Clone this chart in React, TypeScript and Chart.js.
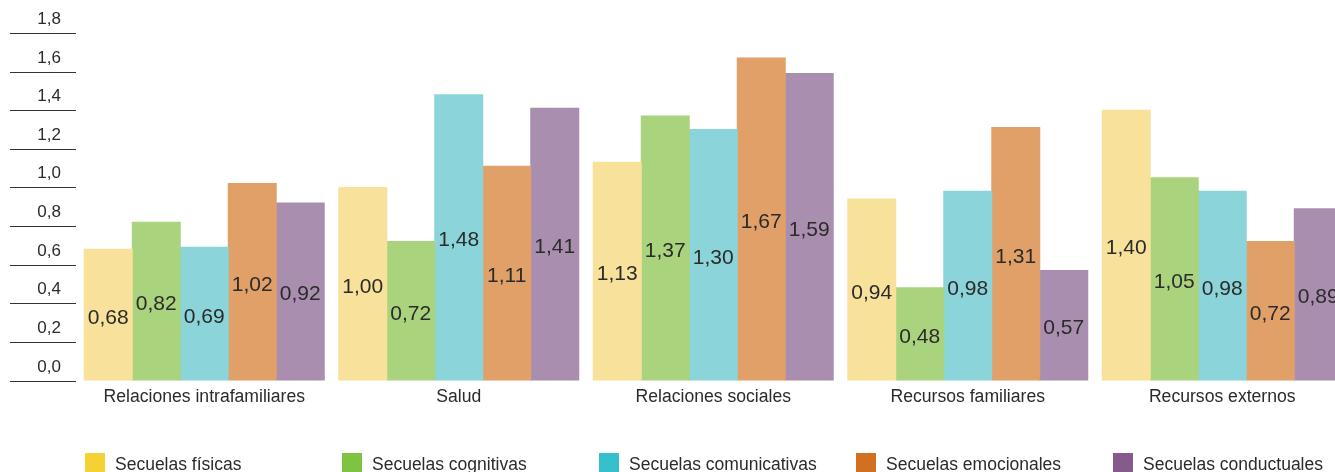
import React, { useEffect, useRef } from "react";
import { Chart, registerables } from "chart.js";

Chart.register(...registerables);

const categories = [
  "Relaciones intrafamiliares",
  "Salud",
  "Relaciones sociales",
  "Recursos familiares",
  "Recursos externos",
];

const seriesNames = [
  "Secuelas físicas",
  "Secuelas cognitivas",
  "Secuelas comunicativas",
  "Secuelas emocionales",
  "Secuelas conductuales",
];

const fisicas = [0.68, 1.0, 1.13, 0.94, 1.4];
const cognitivas = [0.82, 0.72, 1.37, 0.48, 1.05];
const comunicativas = [0.69, 1.48, 1.3, 0.98, 0.98];
const emocionales = [1.02, 1.11, 1.67, 1.31, 0.72];
const conductuales = [0.92, 1.41, 1.59, 0.57, 0.89];

const yTicks = [0, 0.2, 0.4, 0.6, 0.8, 1.0, 1.2, 1.4, 1.6, 1.8];
const yTickLabels = ["0,0", "0,2", "0,4", "0,6", "0,8", "1,0", "1,2", "1,4", "1,6", "1,8"];

const barColors = ["#F8E29B", "#AAD37E", "#8AD4DA", "#E0A068", "#AA8EB0"];
const legendColors = ["#F4D234", "#80C242", "#36C0CB", "#D17020", "#855B8C"];

const FONT = "'Liberation Sans', Arial, Helvetica, sans-serif";
const TEXT = "#2b2b2b";

const fmt = (v: number) => v.toFixed(2).replace(".", ",");

const decorPlugin = {
  id: "decor",
  afterDatasetsDraw(chart: any) {
    const ctx = chart.ctx;
    ctx.save();
    ctx.font = `21px ${FONT}`;
    ctx.fillStyle = TEXT;
    ctx.textAlign = "center";
    ctx.textBaseline = "middle";
    chart.data.datasets.forEach((ds: any, di: number) => {
      const meta = chart.getDatasetMeta(di);
      meta.data.forEach((bar: any, i: number) => {
        const mid = (bar.y + bar.base) / 2;
        ctx.fillText(fmt(ds.data[i]), bar.x, mid + 3);
      });
    });
    ctx.restore();
  },
  afterDraw(chart: any) {
    const ctx = chart.ctx;
    const y = chart.scales.y;
    const x = chart.scales.x;
    const area = chart.chartArea;
    ctx.save();

    // left value axis: a short rule per tick with its label above it
    ctx.strokeStyle = "#333";
    ctx.lineWidth = 1.2;
    ctx.font = `17px ${FONT}`;
    ctx.fillStyle = TEXT;
    ctx.textAlign = "right";
    ctx.textBaseline = "middle";
    yTicks.forEach((v, i) => {
      const py = Math.round(y.getPixelForValue(v)) + 0.5;
      ctx.beginPath();
      ctx.moveTo(10, py);
      ctx.lineTo(76, py);
      ctx.stroke();
      ctx.fillText(yTickLabels[i], 61, py - 14);
    });

    // category names under each group
    ctx.textAlign = "center";
    ctx.font = `17.6px ${FONT}`;
    categories.forEach((c, i) => {
      ctx.fillText(c, x.getPixelForTick(i), area.bottom + 17);
    });

    // legend row
    ctx.textAlign = "left";
    ctx.font = `17.5px ${FONT}`;
    seriesNames.forEach((name, i) => {
      const lx = 85 + i * 257;
      ctx.fillStyle = legendColors[i];
      ctx.fillRect(lx, 453, 20, 20);
      ctx.fillStyle = TEXT;
      ctx.fillText(name, lx + 30, 465);
    });
    ctx.restore();
  },
};

export default function App() {
  const ref = useRef<HTMLCanvasElement | null>(null);

  useEffect(() => {
    document.body.style.margin = "0";
    document.body.style.overflow = "hidden";
    const canvas = ref.current;
    if (!canvas) return;
    const values = [fisicas, cognitivas, comunicativas, emocionales, conductuales];
    const chart = new Chart(canvas, {
      type: "bar",
      data: {
        labels: categories,
        datasets: values.map((d, i) => ({
          label: seriesNames[i],
          data: d,
          backgroundColor: barColors[i],
          borderWidth: 0,
          inflateAmount: 0.5,
          categoryPercentage: 240 / 254.5,
          barPercentage: 1,
        })),
      },
      options: {
        responsive: false,
        animation: false,
        devicePixelRatio: 1,
        layout: { padding: { left: 77, right: 2.5, top: 33, bottom: 91.5 } },
        plugins: {
          legend: { display: false },
          tooltip: { enabled: false },
        },
        scales: {
          x: { display: false },
          y: { display: false, min: 0, max: 1.8 },
        },
      },
      plugins: [decorPlugin],
    });
    return () => chart.destroy();
  }, []);

  return (
    <div
      style={{
        position: "fixed",
        left: 0,
        top: 0,
        width: 1335,
        height: 472,
        overflow: "hidden",
        background: "#fff",
      }}
    >
      <canvas ref={ref} width={1352} height={472} style={{ display: "block" }} />
    </div>
  );
}
